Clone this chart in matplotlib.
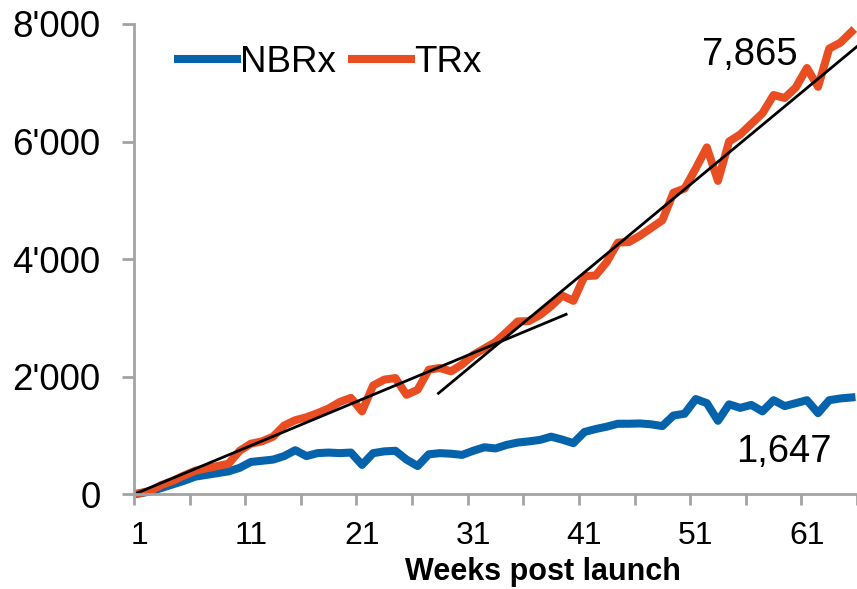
#! /usr/bin/env python

# Weekly NBRx / TRx after launch, with two trend lines on TRx

import numpy as np
import matplotlib.pyplot as plt
from matplotlib.ticker import FuncFormatter

# weekly data
weeks = list(range(1, 66))

trx = [20, 60, 160, 230, 320, 400, 440, 480, 520, 740,
       860, 900, 980, 1170, 1260, 1310, 1380, 1460, 1570, 1640,
       1410, 1850, 1950, 1977, 1692, 1778, 2119, 2148, 2091, 2210,
       2370, 2480, 2590, 2760, 2940, 2945, 3050, 3200, 3380, 3290,
       3710, 3720, 3950, 4280, 4290, 4400, 4530, 4660, 5130, 5200,
       5540, 5900, 5330, 6000, 6120, 6300, 6480, 6790, 6740, 6920,
       7250, 6930, 7580, 7680, 7865]

nbrx = [15, 50, 110, 170, 230, 300, 330, 360, 390, 450,
        550, 570, 590, 650, 750, 650, 700, 710, 700, 710,
        500, 700, 730, 740, 590, 480, 680, 700, 690, 670,
        740, 800, 780, 840, 880, 900, 925, 980, 930, 870,
        1060, 1110, 1150, 1200, 1200, 1205, 1190, 1160, 1340, 1370,
        1620, 1550, 1250, 1530, 1470, 1520, 1410, 1600, 1500, 1550,
        1600, 1380, 1600, 1630, 1647]

# the two straight trend lines drawn over TRx (start / end)
trend1_x = [0.5, 39.35]
trend1_y = [0, 3061]
trend2_x = [27.87, 65.5]
trend2_y = [1718, 7615]

xtick_labels = [1, 11, 21, 31, 41, 51, 61]
ytick_values = [0, 2000, 4000, 6000, 8000]

blue = "#0563ab"
orange = "#e94e23"
grey = "#a3a3a3"

plt.rcParams['font.family'] = ['Liberation Sans', 'DejaVu Sans']

fig = plt.figure(figsize=(8.57, 5.89), dpi=100)
ax = fig.add_axes([134/857, 1 - 494.3/589, 1 - 134/857, (494.3 - 23.9)/589])

ax.plot(weeks, nbrx, color=blue, lw=5.8, label="NBRx", clip_on=False)
ax.plot(weeks, trx, color=orange, lw=5.8, label="TRx", clip_on=False)
ax.plot(trend1_x, trend1_y, color="black", lw=2)
ax.plot(trend2_x, trend2_y, color="black", lw=2)

ax.set_xlim(0.5, 0.5 + (857 - 134)/11.18)
ax.set_ylim(0, 8000)

# tick marks sit between categories, labels on the categories
ax.set_xticks(np.arange(0.5, 66, 5))
ax.set_xticklabels([])
ax.set_xticks(xtick_labels, minor=True)
ax.set_xticklabels([str(w) for w in xtick_labels], minor=True)
ax.tick_params(axis='x', which='major', length=8, width=2, color=grey, direction='out')
ax.tick_params(axis='x', which='minor', length=0, pad=19, labelsize=23)

ax.set_yticks(ytick_values)
ax.yaxis.set_major_formatter(FuncFormatter(lambda v, p: "{:,}".format(int(v)).replace(",", "'")))
ax.tick_params(axis='y', length=8.4, width=2, color=grey, pad=15.6, labelsize=26.5)

for side in ['top', 'right']:
    ax.spines[side].set_visible(False)
for side in ['left', 'bottom']:
    ax.spines[side].set_color(grey)
    ax.spines[side].set_linewidth(2)

ax.text(55.86, 7301, "7,865", ha='center', va='baseline', fontsize=27.5)
ax.text(58.9, 554, "1,647", ha='center', va='baseline', fontsize=27.5)

fig.text(543/857, 1 - 580/589, "Weeks post launch", ha='center', va='baseline',
         fontsize=22, fontweight='bold')

ax.legend(loc='upper left', bbox_to_anchor=(178/857, 1 - 45/589), bbox_transform=fig.transFigure,
          ncol=2, frameon=False, fontsize=26.5, handlelength=1.6, handletextpad=0.08,
          columnspacing=0.45, borderaxespad=0, borderpad=0)

fig.savefig("out.png", dpi=100)
